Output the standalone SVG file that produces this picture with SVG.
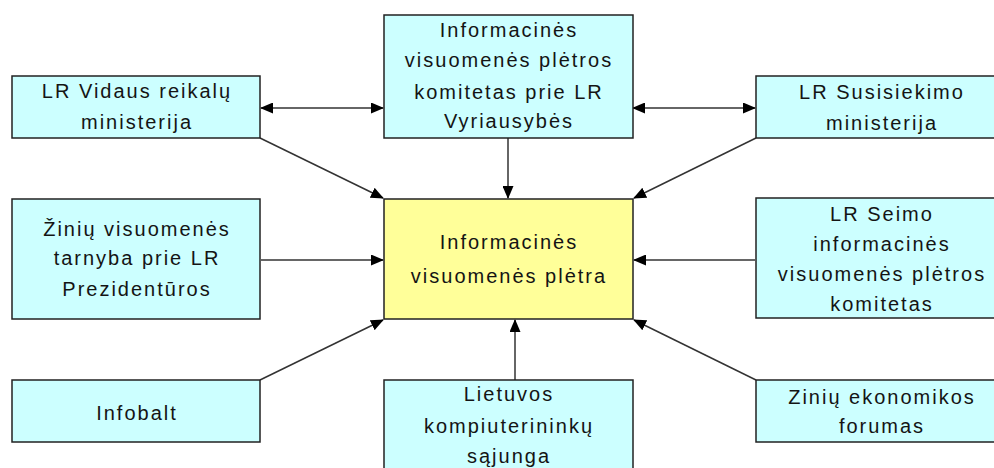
<svg xmlns="http://www.w3.org/2000/svg" width="994" height="468" viewBox="0 0 994 468">
<style>
.box{fill:#ccffff;stroke:#222;stroke-width:1.5}
.main{fill:#ffff99;stroke:#222;stroke-width:1.5}
text{font-family:"Liberation Sans",Arial,sans-serif;font-size:20px;letter-spacing:2px;fill:#141414;text-anchor:middle}
.c line{stroke:#333;stroke-width:1.5}
</style>
<defs>
<marker id="ah" markerWidth="13" markerHeight="11" refX="12" refY="5.5" orient="auto-start-reverse" markerUnits="userSpaceOnUse">
<path d="M0,0 L13,5.5 L0,11 z" fill="#000"/>
</marker>
</defs>
<rect width="994" height="468" fill="#fff"/>
<g class="c" id="connectors">
<line x1="261" y1="108" x2="383" y2="108" marker-start="url(#ah)" marker-end="url(#ah)"/>
<line x1="633" y1="108" x2="755" y2="108" marker-start="url(#ah)" marker-end="url(#ah)"/>
<line x1="260" y1="138" x2="383" y2="198" marker-end="url(#ah)"/>
<line x1="508" y1="138" x2="508" y2="198" marker-end="url(#ah)"/>
<line x1="756" y1="138" x2="634" y2="198" marker-end="url(#ah)"/>
<line x1="261" y1="260" x2="383" y2="260" marker-end="url(#ah)"/>
<line x1="755" y1="260" x2="634" y2="260" marker-end="url(#ah)"/>
<line x1="260" y1="380" x2="383" y2="320" marker-end="url(#ah)"/>
<line x1="515" y1="380" x2="515" y2="320" marker-end="url(#ah)"/>
<line x1="756" y1="380" x2="634" y2="320" marker-end="url(#ah)"/>
</g>
<g id="n-vidaus">
<rect class="box" x="12" y="76" width="248" height="62"/>
<text x="137" y="98">LR Vidaus reikalų</text>
<text x="137" y="129">ministerija</text>
</g>
<g id="n-komitetas">
<rect class="box" x="384" y="15" width="249" height="123"/>
<text x="509" y="37">Informacinės</text>
<text x="509" y="67">visuomenės plėtros</text>
<text x="509" y="99">komitetas prie LR</text>
<text x="509" y="128">Vyriausybės</text>
</g>
<g id="n-susisiekimo">
<rect class="box" x="756" y="76" width="250" height="62"/>
<text x="882" y="99">LR Susisiekimo</text>
<text x="882" y="130">ministerija</text>
</g>
<g id="n-ziniu">
<rect class="box" x="12" y="199" width="248" height="120"/>
<text x="137" y="236">Žinių visuomenės</text>
<text x="137" y="265">tarnyba prie LR</text>
<text x="137" y="296">Prezidentūros</text>
</g>
<g id="n-main">
<rect class="main" x="384" y="199" width="249" height="120"/>
<text x="509" y="249">Informacinės</text>
<text x="509" y="283">visuomenės plėtra</text>
</g>
<g id="n-seimo">
<rect class="box" x="756" y="198" width="250" height="120"/>
<text x="882" y="221">LR Seimo</text>
<text x="882" y="251">informacinės</text>
<text x="882" y="281">visuomenės plėtros</text>
<text x="882" y="311">komitetas</text>
</g>
<g id="n-infobalt">
<rect class="box" x="12" y="380" width="248" height="62"/>
<text x="137" y="420">Infobalt</text>
</g>
<g id="n-lks">
<rect class="box" x="384" y="380" width="249" height="100"/>
<text x="509" y="401">Lietuvos</text>
<text x="509" y="433">kompiuterininkų</text>
<text x="509" y="463">sąjunga</text>
</g>
<g id="n-forumas">
<rect class="box" x="756" y="380" width="250" height="62"/>
<text x="882" y="404">Zinių ekonomikos</text>
<text x="882" y="433">forumas</text>
</g>
</svg>
